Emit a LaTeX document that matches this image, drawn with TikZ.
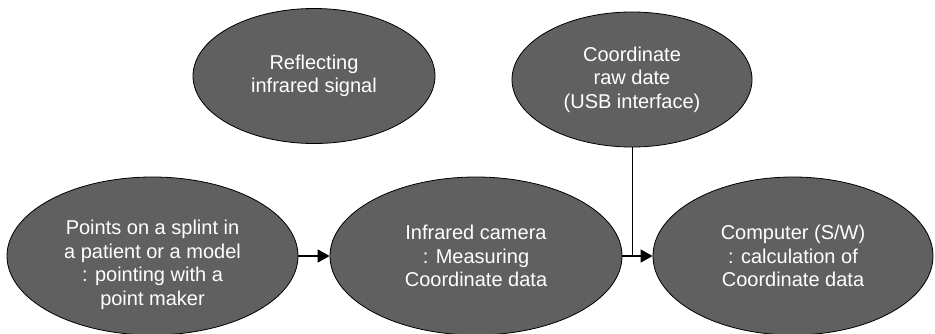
\documentclass[tikz,border=0pt]{standalone}
\usepackage{fontspec}
\setmainfont{Liberation Sans}
\usetikzlibrary{shapes.geometric,arrows.meta}
\begin{document}
\begin{tikzpicture}[x=1pt,y=-1pt,
  oval/.style={ellipse,draw=black,line width=0.8pt,fill=ovalgray,text=white,
    inner sep=0pt,align=center,font=\fontsize{20}{23.5}\selectfont},
  txt/.style={text=white,inner sep=0pt,align=center,font=\fontsize{20}{23.5}\selectfont},
  flow/.style={line width=1.4pt,-{Triangle[length=12pt,width=13pt]}}]
\definecolor{ovalgray}{HTML}{606060}
\useasboundingbox (0,0) rectangle (935,333);
\node[oval,minimum width=291pt,minimum height=158pt] (pts) at (152.5,256) {};
\node[txt] (ptstext) at ([yshift=-9pt]pts.center)
  {Points on a splint in\\a patient or a model\\: pointing with a\\point maker};
\node[oval,minimum width=292pt,minimum height=158pt] (cam) at (476,256)
  {Infrared camera\\: Measuring\\Coordinate data};
\node[oval,minimum width=280pt,minimum height=158pt] (pc) at (793,256)
  {Computer (S/W)\\: calculation of\\Coordinate data};
\node[oval,minimum width=242pt,minimum height=135pt] (refl) at (314,76)
  {Reflecting\\infrared signal};
\node[oval,minimum width=240pt,minimum height=135pt] (usb) at (632,79.5)
  {Coordinate\\raw date\\(USB interface)};
\coordinate (j) at (usb.south |- cam.east);
\draw[flow] (pts.east) -- (cam.west);
\draw[flow] (cam.east) -- (pc.west);
\draw[line width=0.8pt] (usb.south) -- (j);
\end{tikzpicture}
\end{document}
